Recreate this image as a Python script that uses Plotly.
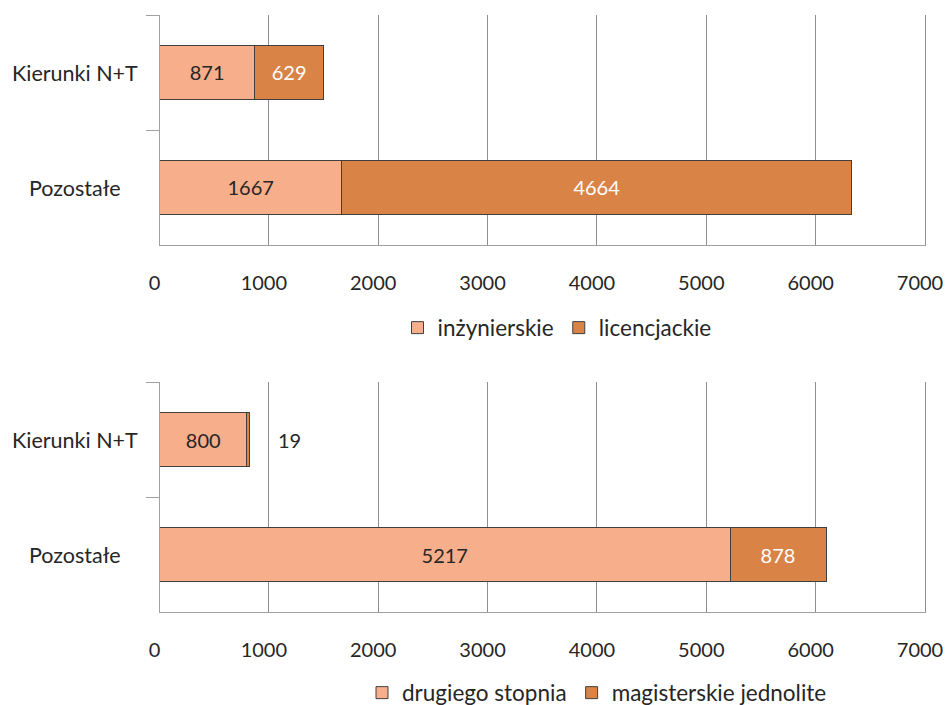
import plotly.graph_objects as go

# Categories (top to bottom) and stacked values for both panels
categories = ["Kierunki N+T", "Pozostałe"]

# First-cycle studies
inzynierskie = [871, 1667]
licencjackie = [629, 4664]

# Second-cycle studies
drugiego_stopnia = [800, 5217]
magisterskie_jednolite = [19, 878]

x_ticks = [0, 1000, 2000, 3000, 4000, 5000, 6000, 7000]

LIGHT = "#F7AE8B"
DARK = "#D98347"
EDGE = "#404040"
GRID = "#8E8E8E"
AXIS = "#A0A0A0"
TEXT = "#262626"
FONT = "Lato"
FS = 20

W, H = 947, 705
X_MAX = 7010  # a touch past the last tick so its grid line stays visible


def ypx(top, bottom):
    return [(H - bottom) / H, (H - top) / H]


x0_px = 159.5
px_per_unit = (925 - x0_px) / 7000
x_dom = [x0_px / W, (x0_px + X_MAX * px_per_unit) / W]

fig = go.Figure()

# Top panel
fig.add_trace(go.Bar(
    y=categories, x=inzynierskie, orientation="h", name="inżynierskie",
    marker=dict(color=LIGHT, line=dict(color=EDGE, width=1)),
    text=[str(v) for v in inzynierskie], textposition="inside",
    insidetextanchor="middle", textfont=dict(color=TEXT, size=FS, family=FONT),
    xaxis="x", yaxis="y", legend="legend", hoverinfo="skip",
))
fig.add_trace(go.Bar(
    y=categories, x=licencjackie, orientation="h", name="licencjackie",
    marker=dict(color=DARK, line=dict(color=EDGE, width=1)),
    text=[str(v) for v in licencjackie], textposition="inside",
    insidetextanchor="middle", textfont=dict(color="white", size=FS, family=FONT),
    xaxis="x", yaxis="y", legend="legend", hoverinfo="skip",
))

# Bottom panel
fig.add_trace(go.Bar(
    y=categories, x=drugiego_stopnia, orientation="h", name="drugiego stopnia",
    marker=dict(color=LIGHT, line=dict(color=EDGE, width=1)),
    text=[str(v) for v in drugiego_stopnia], textposition="inside",
    insidetextanchor="middle", textfont=dict(color=TEXT, size=FS, family=FONT),
    xaxis="x2", yaxis="y2", legend="legend2", hoverinfo="skip",
))
fig.add_trace(go.Bar(
    y=categories, x=magisterskie_jednolite, orientation="h", name="magisterskie jednolite",
    marker=dict(color=DARK, line=dict(color=EDGE, width=1)),
    text=["", str(magisterskie_jednolite[1])], textposition="inside",
    insidetextanchor="middle", textfont=dict(color="white", size=FS, family=FONT),
    xaxis="x2", yaxis="y2", legend="legend2", hoverinfo="skip",
))

# Small segment label placed beside its bar
fig.add_annotation(
    x=drugiego_stopnia[0] + magisterskie_jednolite[0], y=categories[0],
    xref="x2", yref="y2", text=str(magisterskie_jednolite[0]),
    showarrow=False, xanchor="left", xshift=27,
    font=dict(color=TEXT, size=FS, family=FONT),
)

# Centred category labels for both panels
for yref in ("y", "y2"):
    for cat in categories:
        fig.add_annotation(
            x=75 / W, xref="paper", y=cat, yref=yref, text=cat,
            showarrow=False, xanchor="center", yanchor="middle",
            font=dict(color=TEXT, size=21.5, family=FONT),
        )

xaxis_common = dict(
    range=[0, X_MAX], tickvals=x_ticks, ticktext=[str(t) for t in x_ticks],
    showgrid=True, gridcolor=GRID, gridwidth=1,
    showline=True, linecolor=AXIS, linewidth=1, zeroline=False,
    ticks="", tickfont=dict(size=FS, color=TEXT, family=FONT),
    ticklabelstandoff=20, ticklabelshift=-5, ticklabeloverflow="allow",
    automargin=False, fixedrange=True,
)
yaxis_common = dict(
    type="category", categoryorder="array", categoryarray=categories,
    autorange="reversed", tickson="boundaries", ticks="outside",
    ticklen=13, tickcolor=AXIS, tickwidth=1,
    showline=True, linecolor=AXIS, linewidth=1, showgrid=False,
    showticklabels=False, automargin=False, fixedrange=True,
)

legend_common = dict(
    orientation="h", xanchor="center", yanchor="middle",
    traceorder="normal", bgcolor="rgba(0,0,0,0)",
    font=dict(size=22.5, color=TEXT, family=FONT),
)

fig.update_layout(
    width=W, height=H,
    margin=dict(l=0, r=0, t=0, b=0, autoexpand=False),
    paper_bgcolor="white", plot_bgcolor="white",
    barmode="stack", bargap=0.53,
    font=dict(family=FONT, size=FS, color=TEXT),
    xaxis=dict(domain=x_dom, anchor="y", **xaxis_common),
    yaxis=dict(domain=ypx(15, 245), anchor="x", **yaxis_common),
    xaxis2=dict(domain=x_dom, anchor="y2", **xaxis_common),
    yaxis2=dict(domain=ypx(382, 612), anchor="x2", **yaxis_common),
    legend=dict(x=557 / W, y=(H - 328) / H, **legend_common),
    legend2=dict(x=597 / W, y=(H - 693) / H, **legend_common),
    showlegend=True,
)

fig.write_html("out.html")
